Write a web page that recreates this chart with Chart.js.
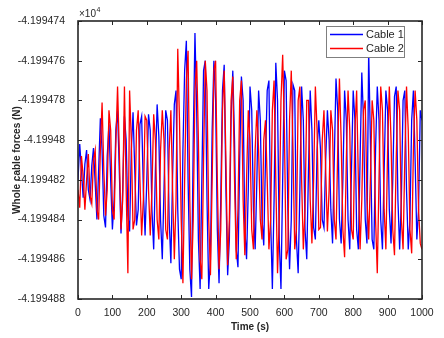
<!DOCTYPE html>
<html>
<head>
<meta charset="utf-8">
<script src="https://cdn.jsdelivr.net/npm/chart.js@4.4.0/dist/chart.umd.min.js"></script>
<style>
  html, body { margin: 0; padding: 0; background: #fff; }
  #wrap { width: 444px; height: 338px; }
</style>
</head>
<body>
<div id="wrap"><canvas id="forceChart"></canvas></div>
<script>
// Forcas nos cabos (valores em 1e-6 x 10^4 N, relativos a -4.19948 x 10^4)
const sampleStep = 5; // s
const cable1 = [
  -2, -0.2, -1.5, -2.9, -1.2, -0.5, -2.5, -3, -1.3, -0.4,
  -2.2, -4, -1.5, 1.1, -0.5, -3.8, -4.4, -0.8, 0.8, -2,
  -4.5, -3, 0.5, 1.5, -1.5, -4.7, -2.5, 1.2, 0, -3.8,
  -4.6, -0.5, 1.4, -1.5, -4.3, -3.5, 0.8, 1.2, -2.5, -4.8,
  -2, 1.3, 0.5, -3.5, -5.5, -1.5, 1.8, 0.2, -4, -6,
  -2.5, 1.5, 1, -4, -6.2, -1.8, 1.8, 2.5, -3.5, -6.5,
  -7, -0.5, 3.5, 5, -2, -6.5, -7.9, 0, 5.4, 1.5,
  -5, -7.5, -2, 3.5, 4, -3, -7.5, -6, 0.5, 4,
  2, -4.5, -7.2, -3, 2.5, 3.8, -2.5, -6.8, -5, 1,
  3.5, 0, -5.5, -6.4, -1, 3.2, 2, -4.5, -6, -2.5,
  2.7, 1.5, -3.5, -5.5, -2, 2.5, 1, -4, -5.3, -1,
  2.5, 3, -4, -7.5, -3, 3.9, 2, -5, -7.5, -2,
  3.5, 3, -3.5, -6.5, -4, 2.8, 2.5, -5, -6.7, -2.5,
  2.7, 1, -4.5, -6, -1.5, 2.5, 0.5, -4.4, -5, -0.5,
  1, -0.5, -4, -4.4, -1, 1.5, 0, -3.5, -5.2, -1,
  3.1, 1.5, -4, -5.2, -2, 2.5, 1, -4, -5.5, -1.5,
  2.5, 1, -4.5, -5.5, -1, 3.4, 1, -4, -5.2, 4.5,
  0, -5, -5.5, -0.5, 2.7, 1, -4, -5.5, -1.5, 2.5,
  1.5, -3.5, -5.2, -2, 2.2, 2.7, -3, -5.5, -3, 2,
  2.5, -2.5, -5.5, -4, 1, 2.5, -1, -5, -3.5, 1.5,
  1
];
const cable2 = [
  -2.5, -3.4, -0.8, -1.8, -3.5, -2, -0.7, -2.8, -3.2, -1,
  -0.5, -3.5, -4, -0.5, 1.9, -1.5, -3.8, -2.5, 1.5, 0.5,
  -3.5, -4, -0.2, 2.7, -0.5, -4.5, -3, 2.7, -2.5, -6.7,
  2.5, 0, -4.5, -4, 0.5, 1.5, -2, -4.8, -3, 1.2,
  1, -2.5, -4.8, -2.5, 1.3, 0, -4, -5, -0.5, 1.5,
  0, -4.5, -5, -0.5, 1.5, -2.5, -6, -3, 4.6, 1,
  -4, -7.2, -2, 3, 4.5, -3, -7, -4, 2.5, 4,
  0, -6, -7, -1, 4, 2.5, -4, -6.8, -2, 3.5,
  4, -2, -6.5, -4.5, 1.5, 3.5, -1, -6.3, -4, 2,
  3.2, -2, -6, -3.5, 2, 3, -3, -5.8, -2, 1.5,
  0, -4.5, -5.5, -0.5, 1.5, -0.5, -4, -5, 0, 1,
  -2, -5.5, -4, 1.5, 3, -2, -6.7, -4, 2, 4.3,
  0.5, -6, -5.5, 1, 3.5, -0.5, -5.5, -4.5, 2, 2.7,
  -2, -5.5, -3.5, 2, 2, -3, -5.2, -2, 2.7, 0.5,
  -4.5, -4.4, 0, 1.5, -1.5, -4.6, -2.5, 1.5, 0.5, -4,
  -5, -0.5, 3.1, 0, -4.5, -5.9, -1, 2.5, 0.5, -4.5,
  -5, 0.5, 2.5, -2, -5.5, -3, 1.5, 2, -3, -5,
  -2, 2, 1, -4, -6.7, -2, 2.7, 1.5, -3.5, -5.5,
  -0.5, 2.7, 0, -4.5, -5.8, -1, 2.5, 1.5, -4, -5.5,
  -1, 2.7, 0.5, -4.5, -5.7, -0.5, 2.5, 1, -3.5, -5.2,
  -5.5
];
const yTickValues = [6, 4, 2, 0, -2, -4, -6, -8];
const yTickLabels = ['-4.199474', '-4.199476', '-4.199478', '-4.19948', '-4.199482', '-4.199484', '-4.199486', '-4.199488'];
const xTickValues = [0, 100, 200, 300, 400, 500, 600, 700, 800, 900, 1000];

const toPoints = arr => arr.map((v, i) => ({ x: i * sampleStep, y: v }));

const fontFamily = "'Liberation Sans', Arial, sans-serif";

// caixa, marcas internas, legenda e expoente no estilo MATLAB
const matlabFrame = {
    id: 'matlabFrame',
    afterDraw(chart) {
        const { ctx, chartArea: a, scales: { x, y } } = chart;
        ctx.save();
        ctx.strokeStyle = '#262626';
        ctx.lineWidth = 1;
        const tl = 4;
        ctx.beginPath();
        xTickValues.forEach(v => {
            const px = Math.round(x.getPixelForValue(v)) + 0.5;
            ctx.moveTo(px, a.bottom); ctx.lineTo(px, a.bottom - tl);
            ctx.moveTo(px, a.top); ctx.lineTo(px, a.top + tl);
        });
        yTickValues.forEach(v => {
            const py = Math.round(y.getPixelForValue(v)) + 0.5;
            ctx.moveTo(a.left, py); ctx.lineTo(a.left + tl, py);
            ctx.moveTo(a.right, py); ctx.lineTo(a.right - tl, py);
        });
        ctx.stroke();
        ctx.lineWidth = 1.6;
        ctx.strokeRect(a.left, a.top, a.right - a.left, a.bottom - a.top);

        // legenda
        const lx = 326, ly = 26, lw = 78, lh = 31;
        ctx.fillStyle = '#fff';
        ctx.fillRect(lx, ly, lw, lh);
        ctx.lineWidth = 1;
        ctx.strokeStyle = '#7f7f7f';
        ctx.strokeRect(lx + 0.5, ly + 0.5, lw, lh);
        ctx.font = '11px ' + fontFamily;
        ctx.textBaseline = 'middle';
        ctx.textAlign = 'left';
        chart.data.datasets.forEach((ds, i) => {
            const yy = ly + 8.5 + i * 14;
            ctx.strokeStyle = ds.borderColor;
            ctx.lineWidth = 1.5;
            ctx.beginPath();
            ctx.moveTo(lx + 4, yy); ctx.lineTo(lx + 37, yy);
            ctx.stroke();
            ctx.fillStyle = '#262626';
            ctx.fillText(ds.label, lx + 40, yy);
        });

        // expoente
        ctx.fillStyle = '#262626';
        ctx.font = '10px ' + fontFamily;
        ctx.textBaseline = 'alphabetic';
        ctx.fillText('\u00d710', a.left + 1, a.top - 4);
        const w = ctx.measureText('\u00d710').width;
        ctx.font = '7px ' + fontFamily;
        ctx.fillText('4', a.left + 1.5 + w, a.top - 9);
        ctx.restore();
    }
};

const forceCtx = document.getElementById('forceChart').getContext('2d');
const forceChart = new Chart(forceCtx, {
    type: 'line',
    data: {
        datasets: [{
            label: 'Cable 1',
            data: toPoints(cable1),
            borderColor: '#0000ff',
            borderWidth: 1.3,
            pointRadius: 0,
            tension: 0,
            order: 1
        }, {
            label: 'Cable 2',
            data: toPoints(cable2),
            borderColor: '#ff0000',
            borderWidth: 1.3,
            pointRadius: 0,
            tension: 0,
            order: 0
        }]
    },
    options: {
        responsive: true,
        maintainAspectRatio: false,
        animation: false,
        layout: { padding: { left: 0, right: 22, top: 21, bottom: 0 } },
        plugins: {
            legend: { display: false },
            tooltip: { enabled: false }
        },
        scales: {
            x: {
                type: 'linear',
                min: 0,
                max: 1000,
                grid: { display: false },
                border: { display: false },
                afterBuildTicks: scale => { scale.ticks = xTickValues.map(v => ({ value: v })); },
                afterFit: scale => { scale.height = 39; },
                ticks: {
                    color: '#262626',
                    padding: 0,
                    maxRotation: 0,
                    font: { family: fontFamily, size: 10.5 },
                    callback: value => String(value)
                },
                title: {
                    display: true,
                    text: 'Time (s)',
                    color: '#262626',
                    padding: { top: 0, bottom: 5 },
                    font: { family: fontFamily, size: 10, weight: 'bold' }
                }
            },
            y: {
                type: 'linear',
                min: -8,
                max: 6,
                grid: { display: false },
                border: { display: false },
                afterBuildTicks: scale => { scale.ticks = yTickValues.map(v => ({ value: v })); },
                afterFit: scale => { scale.width = 78; },
                ticks: {
                    color: '#262626',
                    padding: 5,
                    font: { family: fontFamily, size: 10.5 },
                    callback: value => yTickLabels[yTickValues.indexOf(value)]
                },
                title: {
                    display: true,
                    text: 'Whole cable forces (N)',
                    color: '#262626',
                    padding: { top: 11, bottom: 0 },
                    font: { family: fontFamily, size: 10, weight: 'bold' }
                }
            }
        }
    },
    plugins: [matlabFrame]
});
</script>
</body>
</html>
